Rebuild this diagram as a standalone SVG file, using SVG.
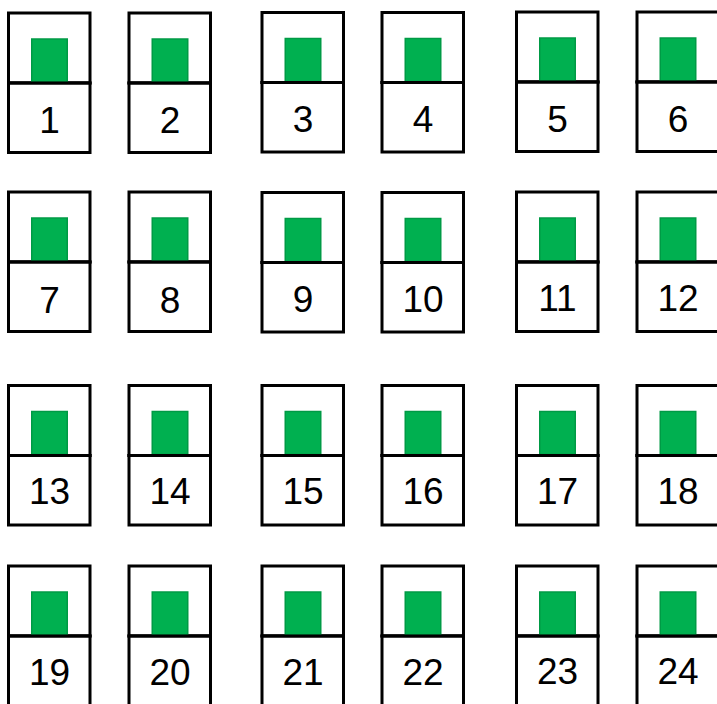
<svg xmlns="http://www.w3.org/2000/svg" width="717" height="704" viewBox="0 0 717 704">
<style>
.box{fill:#ffffff;stroke:#000000;stroke-width:3}
.led{fill:#00B050;stroke:#009A45;stroke-width:1.5}
.num{font-family:"Liberation Sans",Arial,sans-serif;font-size:37px;fill:#000000;text-anchor:middle}
</style>
<defs>
<g id="cell">
<rect class="box" x="1.5" y="1.5" width="81.5" height="70"/>
<rect class="box" x="1.5" y="71.5" width="81.5" height="69.5"/>
<rect class="led" x="24.75" y="27.5" width="35.5" height="43"/>
<line x1="0" y1="71.5" x2="84.5" y2="71.5" stroke="#000" stroke-width="3"/>
</g>
</defs>
<rect width="717" height="704" fill="#ffffff"/>
<g id="connectors"/>
<g id="n1" transform="translate(7,11.5)"><use href="#cell"/><text class="num" x="42.5" y="121">1</text></g>
<g id="n2" transform="translate(127.5,11.5)"><use href="#cell"/><text class="num" x="42.5" y="121">2</text></g>
<g id="n3" transform="translate(260.5,11)"><use href="#cell"/><text class="num" x="42.5" y="121">3</text></g>
<g id="n4" transform="translate(380.5,11)"><use href="#cell"/><text class="num" x="42.5" y="121">4</text></g>
<g id="n5" transform="translate(515,10.5)"><use href="#cell"/><text class="num" x="42.5" y="121">5</text></g>
<g id="n6" transform="translate(635.5,10.5)"><use href="#cell"/><text class="num" x="42.5" y="121">6</text></g>
<g id="n7" transform="translate(7,190.5)"><use href="#cell"/><text class="num" x="42.5" y="122">7</text></g>
<g id="n8" transform="translate(127.5,190.5)"><use href="#cell"/><text class="num" x="42.5" y="122">8</text></g>
<g id="n9" transform="translate(260.5,191)"><use href="#cell"/><text class="num" x="42.5" y="121">9</text></g>
<g id="n10" transform="translate(380.5,191)"><use href="#cell"/><text class="num" x="42.5" y="121">10</text></g>
<g id="n11" transform="translate(515,190.5)"><use href="#cell"/><text class="num" x="42.5" y="120">11</text></g>
<g id="n12" transform="translate(635.5,190.5)"><use href="#cell"/><text class="num" x="42.5" y="120">12</text></g>
<g id="n13" transform="translate(7,384)"><use href="#cell"/><text class="num" x="42.5" y="120">13</text></g>
<g id="n14" transform="translate(127.5,384)"><use href="#cell"/><text class="num" x="42.5" y="120">14</text></g>
<g id="n15" transform="translate(260.5,384)"><use href="#cell"/><text class="num" x="42.5" y="120">15</text></g>
<g id="n16" transform="translate(380.5,384)"><use href="#cell"/><text class="num" x="42.5" y="120">16</text></g>
<g id="n17" transform="translate(515,384)"><use href="#cell"/><text class="num" x="42.5" y="119.5">17</text></g>
<g id="n18" transform="translate(635.5,384)"><use href="#cell"/><text class="num" x="42.5" y="119.5">18</text></g>
<g id="n19" transform="translate(7,564.5)"><use href="#cell"/><text class="num" x="42.5" y="120.5">19</text></g>
<g id="n20" transform="translate(127.5,564.5)"><use href="#cell"/><text class="num" x="42.5" y="120.5">20</text></g>
<g id="n21" transform="translate(260.5,564.5)"><use href="#cell"/><text class="num" x="42.5" y="120">21</text></g>
<g id="n22" transform="translate(380.5,564.5)"><use href="#cell"/><text class="num" x="42.5" y="120">22</text></g>
<g id="n23" transform="translate(515,564.5)"><use href="#cell"/><text class="num" x="42.5" y="119.5">23</text></g>
<g id="n24" transform="translate(635.5,564.5)"><use href="#cell"/><text class="num" x="42.5" y="119.5">24</text></g>
</svg>
